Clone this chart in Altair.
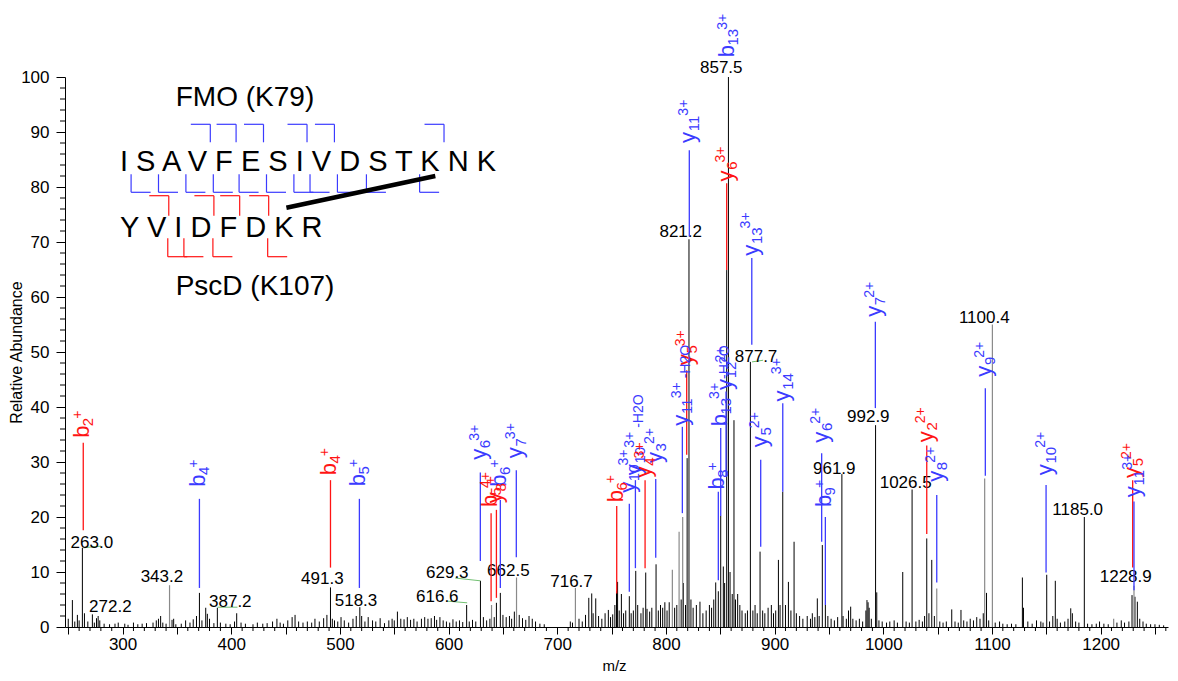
import altair as alt
import pandas as pd

# ----------------------------------------------------------------- spectrum
black_mz = [250.0, 253.8, 256.0, 258.4, 260.0, 263.0, 264.9, 268.0, 272.2, 274.0, 276.0, 277.5, 279.0,
            283.0, 288.0, 293.0, 296.0, 302.0, 305.0, 310.0, 314.0, 318.0, 322.0, 328.0, 331.0, 333.0,
            335.0, 337.0, 340.0, 345.5, 347.0, 349.0, 354.0, 358.0, 362.0, 365.0, 368.0, 370.7, 373.0,
            376.5, 378.0, 380.0, 384.0, 387.2, 390.0, 395.0, 399.0, 403.0, 405.0, 409.0, 413.0, 420.0,
            424.0, 429.0, 433.0, 438.0, 442.0, 445.0, 448.0, 452.0, 456.0, 458.7, 462.0, 466.0, 470.0,
            474.0, 477.0, 481.0, 485.0, 488.0, 491.3, 493.0, 495.0, 498.0, 501.0, 504.0, 508.0, 512.0,
            515.0, 518.3, 520.0, 523.0, 526.0, 530.0, 533.0, 537.0, 541.0, 545.0, 548.0, 550.0, 552.9,
            556.0, 559.0, 562.0, 565.0, 568.0, 571.0, 575.0, 578.0, 581.0, 584.0, 587.0, 589.0, 592.0,
            595.0, 598.0, 601.0, 604.0, 607.0, 610.0, 613.0, 616.6, 619.0, 622.0, 625.0, 629.3, 632.0,
            635.0, 638.0, 642.0, 644.0, 647.6, 650.0, 653.0, 656.0, 658.0, 660.5, 665.0, 668.0, 671.0,
            674.0, 677.0, 680.0, 684.0, 688.0, 712.0, 714.0, 720.0, 723.0, 726.0, 729.0, 731.7, 733.0,
            735.4, 738.0, 741.0, 744.0, 747.0, 749.0, 751.0, 753.0, 754.5, 755.5, 757.0, 759.0, 761.0,
            763.0, 766.3, 768.0, 770.0, 772.2, 774.0, 777.0, 779.0, 781.4, 782.6, 785.0, 787.0, 790.9,
            793.0, 795.0, 797.0, 799.0, 801.0, 803.0, 808.0, 810.0, 814.0, 816.0, 818.0, 819.5, 821.2,
            823.0, 825.0, 828.0, 831.3, 834.0, 837.0, 840.0, 842.0, 844.0, 845.8, 848.2, 850.4, 852.8,
            854.0, 855.9, 857.5, 859.0, 861.0, 862.6, 864.0, 866.0, 868.0, 870.0, 873.0, 875.0, 877.7,
            880.0, 882.0, 884.0, 886.6, 889.0, 891.0, 894.0, 897.0, 899.0, 901.0, 903.5, 905.0, 907.5,
            910.0, 912.7, 915.0, 917.9, 920.0, 923.0, 926.0, 930.0, 933.0, 934.7, 937.0, 939.3, 941.0,
            943.9, 946.7, 949.0, 952.0, 955.0, 958.0, 961.9, 963.0, 966.0, 968.0, 970.0, 972.0, 975.0,
            978.0, 981.0, 984.0, 985.0, 986.0, 987.0, 989.0, 992.9, 994.0, 996.0, 999.0, 1003.0, 1006.0,
            1010.0, 1013.0, 1017.9, 1021.0, 1024.0, 1026.5, 1030.0, 1033.0, 1036.0, 1038.0, 1040.0,
            1042.0, 1044.6, 1047.0, 1052.0, 1055.0, 1058.0, 1063.0, 1066.0, 1069.0, 1071.5, 1074.0,
            1077.0, 1080.0, 1083.0, 1086.0, 1089.0, 1092.0, 1095.0, 1097.0, 1103.0, 1107.0, 1110.0,
            1114.0, 1118.0, 1122.0, 1128.0, 1129.0, 1133.0, 1137.0, 1141.0, 1145.0, 1147.0, 1150.4,
            1153.0, 1156.0, 1158.3, 1160.0, 1163.0, 1167.0, 1170.0, 1172.5, 1174.0, 1177.0, 1180.0,
            1185.0, 1188.0, 1192.0, 1196.0, 1199.0, 1203.0, 1207.0, 1215.0, 1219.0, 1222.0, 1226.0,
            1228.9, 1231.6, 1233.8, 1236.0, 1239.0, 1242.0, 1246.0, 1250.0, 1254.0, 1258.0]
black_ab = [1.5, 4.9, 1.0, 2.2, 1.2, 14.4, 2.5, 1.0, 2.3, 0.8, 1.6, 2.0, 1.2,
            0.6, 0.5, 0.6, 0.8, 0.6, 0.4, 0.8, 0.5, 0.6, 0.7, 0.8, 1.2, 1.5,
            2.0, 0.8, 0.6, 1.3, 1.5, 0.5, 0.6, 1.2, 0.8, 1.4, 2.0, 6.2, 1.2,
            3.5, 2.4, 1.5, 0.7, 3.5, 0.8, 0.6, 0.5, 1.0, 2.5, 0.8, 0.6, 0.5,
            0.8, 0.6, 0.7, 1.0, 1.5, 0.8, 0.6, 1.2, 1.8, 2.2, 1.0, 0.8, 1.0,
            0.8, 1.5, 1.0, 1.6, 2.2, 7.2, 1.5, 1.2, 1.0, 1.8, 1.2, 0.8, 1.5,
            2.0, 3.6, 2.0, 1.0, 1.8, 1.2, 1.0, 1.6, 0.7, 1.2, 1.5, 1.2, 2.8,
            1.5, 1.4, 1.8, 1.3, 1.5, 1.0, 1.5, 1.8, 1.5, 1.6, 2.0, 1.3, 1.8,
            1.2, 1.0, 0.8, 1.4, 1.0, 1.2, 0.9, 4.0, 1.0, 1.3, 1.0, 8.4, 1.8,
            1.2, 1.5, 1.8, 4.4, 6.2, 2.2, 1.8, 2.0, 1.5, 2.8, 2.2, 1.6, 1.3,
            2.0, 1.5, 1.0, 0.6, 0.5, 1.0, 0.8, 1.5, 1.0, 2.2, 5.3, 6.1, 2.5,
            5.2, 2.0, 1.5, 2.5, 3.1, 1.8, 2.3, 4.0, 6.5, 8.2, 3.0, 6.0, 2.5,
            3.0, 5.6, 2.5, 3.0, 10.2, 4.0, 2.5, 3.5, 9.9, 3.3, 2.8, 3.5, 11.4,
            3.0, 4.0, 3.5, 4.5, 3.0, 4.5, 3.5, 4.0, 5.0, 8.0, 4.0, 30.7, 70.5,
            5.0, 3.5, 4.0, 4.6, 2.5, 3.0, 4.0, 3.5, 5.0, 8.1, 6.5, 20.2, 11.0,
            8.0, 64.9, 100.0, 10.0, 6.0, 37.6, 5.0, 6.0, 4.0, 3.0, 2.5, 3.0, 48.2,
            3.0, 4.0, 2.5, 13.7, 3.0, 2.5, 3.5, 4.0, 2.5, 3.0, 12.2, 4.0, 24.6,
            4.0, 8.2, 3.0, 15.5, 2.5, 2.0, 1.5, 2.0, 1.5, 2.5, 1.8, 5.2, 2.0,
            14.9, 4.0, 2.0, 1.5, 1.2, 1.8, 27.8, 2.0, 1.5, 3.0, 3.7, 1.5, 1.2,
            1.5, 1.0, 3.0, 4.9, 4.5, 3.5, 1.5, 36.7, 6.3, 1.2, 1.0, 0.8, 1.0,
            1.2, 0.8, 10.0, 1.0, 0.8, 25.0, 1.0, 1.3, 1.0, 2.0, 16.1,
            2.5, 12.2, 2.0, 1.0, 0.8, 1.0, 3.2, 1.0, 0.8, 3.1, 1.2,
            1.0, 1.5, 1.2, 1.8, 1.5, 2.5, 6.2, 1.2, 0.8, 1.0, 0.6,
            0.5, 0.6, 0.5, 9.0, 3.5, 1.0, 0.6, 1.2, 1.0, 0.8, 9.5,
            1.0, 2.0, 8.4, 1.5, 0.8, 1.0, 1.5, 3.4, 2.5, 1.0, 0.8,
            20.0, 0.6, 0.5, 0.6, 1.0, 0.6, 0.5, 0.8, 1.2, 0.8, 1.0,
            5.8, 5.5, 4.6, 1.5, 1.0, 0.6, 0.5, 0.5, 0.4, 0.3]
gray_mz = [343.2, 639.5, 662.5, 716.7, 805.9, 812.1, 815.4, 1049.2, 1093.3, 1100.4, 1212.0, 1230.7]
gray_ab = [7.6, 4.0, 9.0, 7.1, 10.4, 17.3, 20.0, 7.0, 27.0, 55.0, 1.5, 7.5]

# ------------------------------------------------------- labelled peaks
lab_mz = [263.0, 272.2, 343.2, 387.2, 491.3, 518.3, 616.6, 629.3, 662.5, 716.7, 821.2, 857.5,
          877.7, 961.9, 992.9, 1026.5, 1100.4, 1185.0, 1228.9]
lab_x = [271.7, 288.7, 336.2, 399.1, 483.8, 514.8, 589.6, 598.8, 655.0, 713.1, 813.6, 850.9,
         882.9, 954.9, 986.2, 1020.6, 1092.9, 1178.9, 1223.1]
lab_y = [14.4, 2.7, 8.1, 3.6, 7.8, 3.8, 4.5, 8.9, 9.3, 7.3, 70.9, 100.7,
         48.1, 27.9, 37.2, 25.3, 55.3, 20.4, 8.1]

conn_mz1 = [263.9, 387.3, 606.1, 598.7, 879.2]
conn_ab1 = [14.4, 3.6, 8.9, 4.7, 48.2]
conn_mz2 = [280.1, 405.7, 629.2, 617.1, 889.4]
conn_ab2 = [14.7, 3.6, 8.4, 4.4, 48.5]

# ------------------------------------------------- fragment assignments
frag_mz = [263.8, 370.7, 491.3, 517.9, 629.2, 639.1, 644.0, 647.6, 662.3, 754.7, 766.3, 771.9,
           780.8, 790.6, 815.1, 819.1, 821.5, 848.2, 850.4, 855.3, 855.9, 857.5, 879.0, 887.2,
           907.5, 943.3, 946.7, 992.7, 1040.0, 1049.2, 1093.9, 1149.8, 1229.5, 1230.7]
frag_pep = ["PscD", "FMO", "PscD", "FMO", "FMO", "PscD", "PscD", "FMO", "FMO", "PscD", "FMO", "FMO",
            "PscD", "FMO", "FMO", "PscD", "FMO", "FMO", "FMO", "FMO", "PscD", "FMO", "FMO", "FMO",
            "FMO", "FMO", "FMO", "FMO", "PscD", "FMO", "FMO", "FMO", "PscD", "FMO"]
frag_ion = ["b", "b", "b", "b", "y", "b", "y", "b", "y", "b", "y", "y",
            "y", "y", "y", "y", "y", "b", "b", "y", "y", "b", "y", "y",
            "y", "y", "b", "y", "y", "y", "y", "y", "y", "y"]
frag_sub = ["2", "4", "4", "5", "6", "5", "8", "6", "7", "6", "10", "10",
            "4", "3", "11", "5", "11", "8", "13", "12", "6", "13", "13", "5",
            "14", "6", "9", "7", "2", "8", "9", "10", "5", "11"]
frag_sup = ["+", "+", "+", "+", "3+", "4+", "+", "+", "3+", "+", "3+", "3+",
            "3+", "2+", "3+", "3+", "3+", "+", "3+", "2+", "3+", "3+", "3+", "2+",
            "3+", "2+", "+", "2+", "2+", "2+", "2+", "2+", "2+", "3+"]
frag_suf = ["", "", "", "", "", "", "", "", "", "", "", "-H2O",
            "", "", "-H2O", "", "", "", "-H2O", "", "", "", "", "",
            "", "", "", "", "", "", "", "", "", ""]
frag_lo = [17.6, 7.1, 10.8, 7.1, 12.0, 4.7, 5.3, 7.1, 12.7, 6.1, 6.4, 10.7,
           10.7, 12.6, 20.7, 31.3, 71.0, 8.5, 20.2, 27.3, 64.9, None, 51.3, 14.6,
           24.6, 15.5, 4.0, 39.8, 16.9, 8.1, 27.5, 9.9, 10.8, 6.7]
frag_hi = [33.5, 23.3, 26.7, 23.3, 28.1, 20.7, 21.3, 23.1, 28.5, 22.0, 22.4, 26.7,
           26.7, 26.9, 36.4, 46.7, 86.7, 24.6, 36.2, 42.8, 80.7, None, 67.1, 30.4,
           40.7, 31.6, 20.0, 55.5, 33.0, 24.0, 43.4, 25.8, 26.7, 22.8]
frag_lab = [34.4, 25.5, 27.6, 25.6, 30.4, 21.8, 22.5, 25.5, 30.7, 22.7, 24.4, 27.6,
            27.2, 29.8, 36.6, 47.6, 88.0, 25.0, 36.5, 43.1, 81.0, 103.6, 67.5, 32.7,
            41.0, 33.5, 21.8, 56.4, 33.6, 26.4, 45.5, 27.6, 27.1, 23.6]

# ------------------------------------------------------ peptide diagram
seq_fmo = "ISAVFESIVDSTKNK"
seq_pscd = "YVIDFDKR"
title_fmo = "FMO (K79)"
title_pscd = "PscD (K107)"
fmo_b = [4, 5, 6, 8, 9, 13]
fmo_y = [14, 13, 12, 11, 10, 9, 8, 7, 6, 5, 3]
pscd_b = [2, 4, 5, 6]
pscd_y = [6, 5, 4, 2]
link_fmo = 13
link_pscd = 7

# axis tick positions
x_major = list(range(250, 1261, 50))
x_minor = [v for v in range(250, 1261, 10) if v % 50]
y_major = list(range(0, 101, 10))
y_minor = [v for v in range(0, 101, 2) if v % 10]

# ================================================================ styling
BLUE = "#3b3bff"
RED = "#ff1414"
GREEN = "#72c072"
FONT = "Liberation Sans"
W, H = 1103, 550
PAD = {"left": 57, "top": 69, "right": 2, "bottom": 46}
OX, OY = 8 + PAD["left"], 8 + PAD["top"]

xs = alt.Scale(domain=[247, 1262], nice=False, zero=False)
ys = alt.Scale(domain=[0, 100], nice=False, zero=False)
pep_color = alt.Color("pep:N", scale=alt.Scale(domain=["FMO", "PscD"], range=[BLUE, RED]), legend=None)

x_axis = alt.Axis(
    values=x_major, format="d",
    labelExpr="datum.value % 100 === 0 ? datum.label : ''",
    tickSize=7, tickColor="black", domainColor="black", tickWidth=1, domainWidth=1, grid=False,
    labelFont=FONT, labelFontSize=17, labelColor="black", labelPadding=2,
    labelOverlap=False, labelFlush=False, labelBound=False,
    title="m/z", titleFont=FONT, titleFontSize=15, titleFontWeight="normal", titleColor="black",
    titleX=549, titleY=43, titleAlign="center", titleBaseline="alphabetic")
y_axis = alt.Axis(
    values=y_major, format="d",
    tickSize=9, tickColor="black", domainColor="black", tickWidth=1, domainWidth=1, grid=False,
    labelFont=FONT, labelFontSize=17, labelColor="black", labelPadding=7,
    labelOverlap=False, labelFlush=False, labelBound=False,
    title="Relative Abundance", titleFont=FONT, titleFontSize=16, titleFontWeight="normal",
    titleColor="black", titleAngle=270, titleX=-44, titleY=275, titleAlign="center",
    titleBaseline="alphabetic")


def X(f):
    return alt.X(f, scale=xs)


def Y(f):
    return alt.Y(f, scale=ys)


layers = []

# spectrum sticks (the first layer carries the axes)
spec = pd.DataFrame({"mz": black_mz, "ab": black_ab})
layers.append(alt.Chart(spec).mark_rule(color="black", strokeWidth=1).encode(
    x=alt.X("mz:Q", scale=xs, axis=x_axis), y=alt.Y("ab:Q", scale=ys, axis=y_axis), y2=alt.datum(0)))
gspec = pd.DataFrame({"mz": gray_mz, "ab": gray_ab})
layers.append(alt.Chart(gspec).mark_rule(color="#8a8a8a", strokeWidth=1.2).encode(
    x=X("mz:Q"), y=Y("ab:Q"), y2=alt.datum(0)))

# minor axis ticks
layers.append(alt.Chart(pd.DataFrame({"mz": x_minor})).mark_rule(color="black", strokeWidth=1).encode(
    x=X("mz:Q"), y=alt.value(H), y2=alt.value(H + 4)))
layers.append(alt.Chart(pd.DataFrame({"ab": y_minor})).mark_rule(color="black", strokeWidth=1).encode(
    y=Y("ab:Q"), x=alt.value(0), x2=alt.value(-5)))

# green connectors
conn = pd.DataFrame({"mz": conn_mz1, "ab": conn_ab1, "c": conn_mz2, "d": conn_ab2})
layers.append(alt.Chart(conn).mark_rule(color=GREEN, strokeWidth=1).encode(
    x=X("mz:Q"), y=Y("ab:Q"), x2="c:Q", y2="d:Q"))

# peak m/z labels
labs = pd.DataFrame({"pk": lab_mz, "mz": lab_x, "ab": lab_y})
labs["txt"] = labs["pk"].map(lambda v: f"{v:.1f}")
layers.append(alt.Chart(labs).mark_text(font=FONT, fontSize=17, color="black", align="center",
                                         baseline="alphabetic").encode(
    x=X("mz:Q"), y=Y("ab:Q"), text="txt:N"))

# fragment lines
frag = pd.DataFrame({"mz": frag_mz, "pep": frag_pep, "ion": frag_ion, "sub": frag_sub,
                     "sup": frag_sup, "suf": frag_suf, "ab": frag_lo, "hi": frag_hi, "lab": frag_lab})
lines = frag.dropna(subset=["ab"])
layers.append(alt.Chart(lines).mark_rule(strokeWidth=1.3).encode(
    x=X("mz:Q"), y=Y("ab:Q"), y2="hi:Q", color=pep_color))

FS_MAIN, FS_SUB, FS_SUP, FS_SUF = 22, 15, 14, 14
MAIN_W = 0.53 * FS_MAIN
DIG_W = 0.556 * FS_SUB


def ion_text(df, field, fs, dx, dy):
    d = df.drop(columns=["ab"]).rename(columns={"lab": "ab"})
    return alt.Chart(d).mark_text(font=FONT, fontSize=fs, angle=270, align="left",
                                  baseline="alphabetic", dx=dx, dy=dy).encode(
        x=X("mz:Q"), y=Y("ab:Q"), text=f"{field}:N", color=pep_color)


layers.append(ion_text(frag, "ion", FS_MAIN, 0, 6))
layers.append(ion_text(frag, "sub", FS_SUB, MAIN_W, 10))
for n in sorted(set(len(s) for s in frag_sub)):
    part = frag[frag["sub"].str.len() == n]
    layers.append(ion_text(part, "sup", FS_SUP, MAIN_W + n * DIG_W - 1, -1.5))
suf = frag[frag["suf"] != ""]
layers.append(ion_text(suf, "suf", FS_SUF, MAIN_W + 2 * DIG_W + 17 + 2, 8))

# ---------------- peptide diagram (pixel positions from residue metrics)
AW = {"I": .278, "S": .667, "A": .667, "V": .667, "F": .611, "E": .667, "T": .611, "K": .667,
      "N": .722, "D": .722, "Y": .667, "R": .722, " ": .278}
SEQ_FS = 29
SP = AW[" "] * SEQ_FS
SEQ_X0 = 120
BASE1, BASE2 = 171, 236.7


def layout(seq):
    lefts, rights, x = [], [], SEQ_X0
    for ch in seq:
        lefts.append(x)
        x += AW[ch] * SEQ_FS
        rights.append(x)
        x += SP
    return lefts, rights


l1, r1 = layout(seq_fmo)
l2, r2 = layout(seq_pscd)
gap1 = [r + SP / 2 for r in r1]
gap2 = [r + SP / 2 for r in r2]
BR = 19.5
segs = []


def top_bracket(g, ya, yb, pep):
    segs.append((g - BR, ya, g, ya, pep))
    segs.append((g, ya, g, yb, pep))


def bottom_bracket(g, ya, yb, pep):
    segs.append((g, ya, g, yb, pep))
    segs.append((g, yb, g + BR, yb, pep))


for n in fmo_b:
    top_bracket(gap1[n - 1] - 4, BASE1 - 46.7, BASE1 - 28.7, "FMO")
for n in fmo_y:
    bottom_bracket(gap1[len(seq_fmo) - n - 1] - 1, BASE1 + 3.3, BASE1 + 21.3, "FMO")
for n in pscd_b:
    top_bracket(gap2[n - 1] - 2, BASE2 - 41, BASE2 - 21, "PscD")
for n in pscd_y:
    bottom_bracket(gap2[len(seq_pscd) - n - 1] - 3, BASE2 + 1.6, BASE2 + 20, "PscD")

PX = dict(scale=None, axis=None)
br = pd.DataFrame(segs, columns=["px", "py", "px2", "py2", "pep"])
br[["px", "px2"]] -= OX
br[["py", "py2"]] -= OY
layers.append(alt.Chart(br).mark_rule(strokeWidth=1.2).encode(
    x=alt.X("px:Q", **PX), y=alt.Y("py:Q", **PX), x2="px2:Q", y2="py2:Q", color=pep_color))

k1 = (l1[link_fmo - 1] + r1[link_fmo - 1]) / 2 + 1
k2 = (l2[link_pscd - 1] + r2[link_pscd - 1]) / 2 + 2
link = pd.DataFrame({"px": [k2 - OX], "py": [BASE2 - 29 - OY], "px2": [k1 - OX], "py2": [BASE1 + 5 - OY]})
layers.append(alt.Chart(link).mark_rule(strokeWidth=4.5, color="black").encode(
    x=alt.X("px:Q", **PX), y=alt.Y("py:Q", **PX), x2="px2:Q", y2="py2:Q"))

seqs = pd.DataFrame({"t": [" ".join(seq_fmo), " ".join(seq_pscd)],
                     "px": [SEQ_X0 - OX, SEQ_X0 - OX], "py": [BASE1 - OY, BASE2 - OY]})
layers.append(alt.Chart(seqs).mark_text(font=FONT, fontSize=SEQ_FS, align="left",
                                         baseline="alphabetic", color="black").encode(
    x=alt.X("px:Q", **PX), y=alt.Y("py:Q", **PX), text="t:N"))

titles = pd.DataFrame({"t": [title_fmo, title_pscd], "px": [245 - OX, 255 - OX],
                       "py": [105.7 - OY, 295 - OY]})
layers.append(alt.Chart(titles).mark_text(font=FONT, fontSize=28, align="center",
                                           baseline="alphabetic", color="black").encode(
    x=alt.X("px:Q", **PX), y=alt.Y("py:Q", **PX), text="t:N"))

chart = alt.layer(*layers).properties(
    width=W, height=H, autosize=alt.AutoSizeParams(type="none"), padding=PAD,
    background="white").configure_view(stroke=None)

chart.save("out.html", embed_options={"renderer": "svg", "actions": False})
